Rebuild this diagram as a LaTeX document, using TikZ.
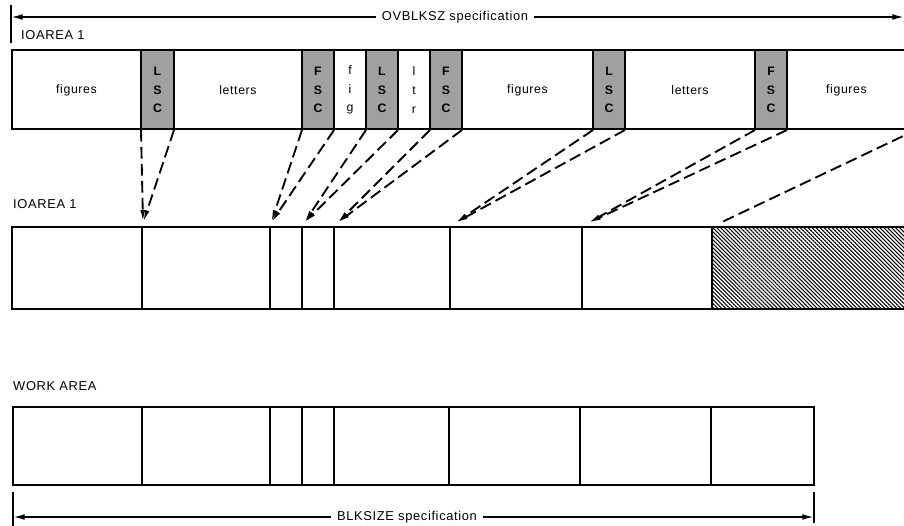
\documentclass[tikz,border=0pt]{standalone}
\usepackage{fontspec}
\setmainfont{Liberation Sans}[LetterSpace=5]
\usetikzlibrary{arrows.meta,patterns.meta}
\definecolor{shadex}{HTML}{A0A0A0}
\tikzset{
  box/.style={draw=black,line width=1.6pt},
  shaded/.style={box,fill=shadex},
  hatched/.style={box,pattern={Lines[angle=-45,distance=2.4pt,line width=0.9pt]}},
  link/.style={line width=1.6pt,dash pattern=on 10pt off 4.5pt},
  linkar/.style={link,-{Latex[length=11pt,width=4pt]}},
  dimar/.style={line width=1.5pt,-{Latex[length=10pt,width=5pt]}},
  lbl/.style={font=\fontsize{11}{13}\selectfont,anchor=west,inner sep=0pt},
  txt/.style={font=\fontsize{10.5}{16}\selectfont,align=center,inner sep=0pt},
  sc/.style={txt,font=\fontsize{10.5}{16}\selectfont\bfseries}
}
\begin{document}
\begin{tikzpicture}[x=0.03cm,y=-0.03cm]
\useasboundingbox (0,0) rectangle (904,525);
% OVBLKSZ dimension
\node[lbl,anchor=center,inner xsep=5pt] (ovbl) at (455,17) {OVBLKSZ specification};
\coordinate (ovl) at (11,17);
\coordinate (ovr) at (904,17);
\draw[line width=1.2pt] (11,5) -- (11,43);
\draw[dimar] (ovbl.west) -- (ovl);
\draw[dimar] (ovbl.east) -- (ovr);
% input record
\node[lbl] (io1) at (21,35) {IOAREA 1};
\foreach \a/\b/\f/\k/\t [count=\i] in {
  12/141/box/txt/figures, 141/174/shaded/sc/{L\\S\\C},
  174/302/box/txt/letters, 302/334/shaded/sc/{F\\S\\C},
  334/366/box/txt/{f\\i\\g}, 366/398/shaded/sc/{L\\S\\C},
  398/430/box/txt/{l\\t\\r}, 430/462/shaded/sc/{F\\S\\C},
  462/593/box/txt/figures, 593/625/shaded/sc/{L\\S\\C},
  625/755/box/txt/letters, 755/787/shaded/sc/{F\\S\\C},
  787/906/box/txt/figures}{
  \draw[\f] (\a,50) rectangle (\b,129);
  \node[\k] (top\i) at ({(\a+\b)/2},90) {\t};
}
% IOAREA after shift codes removed
\node[lbl] (io2) at (13,204) {IOAREA 1};
\foreach \a/\b/\f in {12/142/box,142/270/box,270/302/box,302/334/box,
  334/450/box,450/582/box,582/712/box,712/906/hatched}
  \draw[\f] (\a,227) rectangle (\b,309);
\foreach \x [count=\i] in {141,174,302,334,366,398,430,462,593,625,755,787}
  \coordinate (t\i) at (\x,130);
\foreach \x [count=\i] in {143,271,304,337,455,588}
  \coordinate (p\i) at (\x,223);
\foreach \i in {1,...,6}{
  \pgfmathtruncatemacro\ja{2*\i-1}
  \pgfmathtruncatemacro\jb{2*\i}
  \draw[linkar] (t\ja) -- (p\i);
  \draw[linkar] (t\jb) -- (p\i);
}
\coordinate (t13) at (918,129);
\coordinate (p7) at (722,222);
\draw[link] (t13) -- (p7);
% work area
\node[lbl] (work) at (13,386) {WORK AREA};
\foreach \a/\b in {13/142,142/270,270/302,302/334,334/449,449/580,580/711,711/814}
  \draw[box] (\a,407) rectangle (\b,485);
% BLKSIZE dimension
\node[lbl,anchor=center,inner xsep=5pt] (blk) at (407,517) {BLKSIZE specification};
\coordinate (bl) at (13,517);
\coordinate (br) at (814,517);
\draw[line width=1.2pt] (13,492) -- (13,527);
\draw[line width=1.2pt] (814,492) -- (814,523);
\draw[dimar] (blk.west) -- (bl);
\draw[dimar] (blk.east) -- (br);
\end{tikzpicture}
\end{document}
